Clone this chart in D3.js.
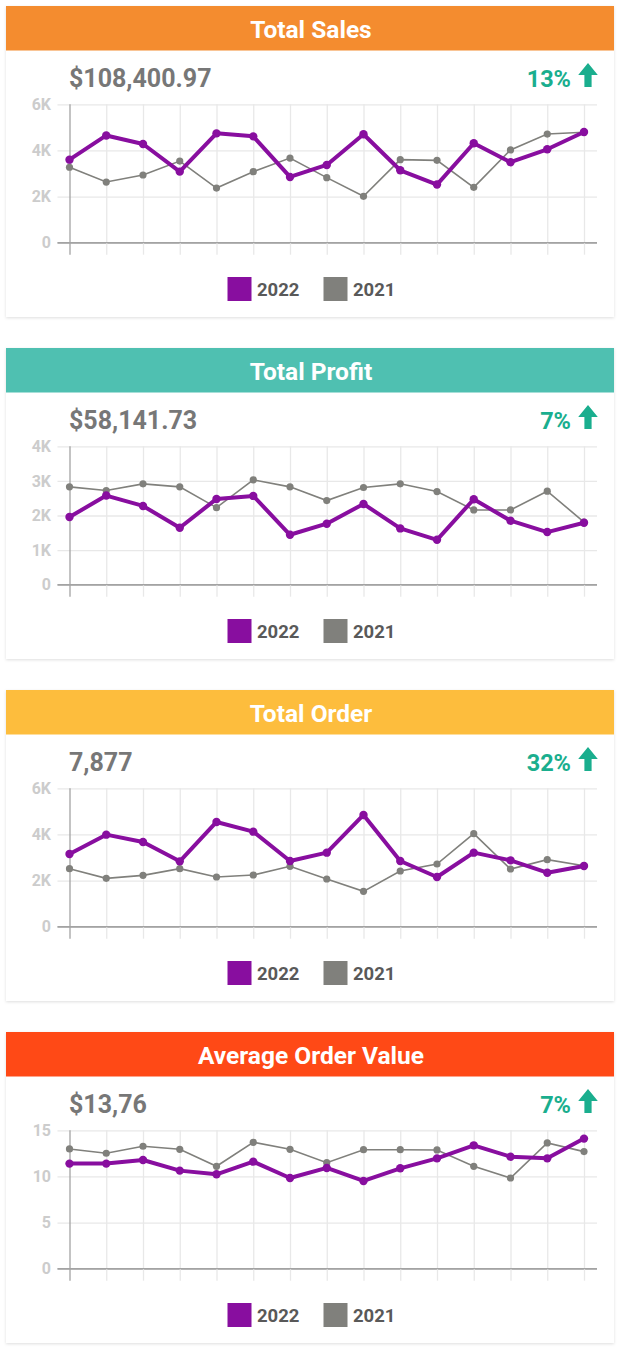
<!DOCTYPE html>
<html>
<head>
<meta charset="utf-8">
<script src="https://cdn.jsdelivr.net/npm/d3@7"></script>
<style>
  html, body { margin: 0; padding: 0; background: #ffffff; }
  svg { display: block; font-family: Roboto, "Noto Sans", sans-serif; }
</style>
</head>
<body>
<svg id="chart" width="620" height="1349"></svg>
<script>
// ---------- data ----------
const periods = ["P1","P2","P3","P4","P5","P6","P7","P8","P9","P10","P11","P12","P13","P14","P15"];
const seriesNames = ["2022", "2021"];

const titles = ["Total Sales", "Total Profit", "Total Order", "Average Order Value"];
const totals = ["$108,400.97", "$58,141.73", "7,877", "$13,76"];
const changes = ["13%", "7%", "32%", "7%"];

const sales2022 = [3600, 4650, 4280, 3080, 4740, 4610, 2850, 3370, 4700, 3140, 2520, 4310, 3490, 4050, 4800];
const sales2021 = [3270, 2630, 2935, 3540, 2370, 3080, 3670, 2820, 2010, 3600, 3570, 2400, 4020, 4710, 4790];

const profit2022 = [1956, 2576, 2276, 1646, 2479, 2566, 1443, 1763, 2334, 1627, 1298, 2470, 1850, 1521, 1792];
const profit2021 = [2828, 2721, 2915, 2828, 2228, 3031, 2828, 2431, 2809, 2915, 2692, 2160, 2160, 2702, 1811];

const orders2022 = [3150, 3990, 3670, 2834, 4540, 4120, 2848, 3210, 4844, 2848, 2154, 3210, 2877, 2342, 2631];
const orders2021 = [2516, 2097, 2227, 2516, 2154, 2241, 2617, 2068, 1533, 2415, 2718, 4034, 2501, 2906, 2646];

const aov2022 = [11.39, 11.39, 11.78, 10.63, 10.23, 11.60, 9.83, 10.92, 9.51, 10.88, 11.96, 13.37, 12.14, 11.96, 14.10];
const aov2021 = [12.98, 12.51, 13.27, 12.94, 11.10, 13.70, 12.94, 11.49, 12.90, 12.90, 12.87, 11.10, 9.83, 13.63, 12.69];

const salesTicks = [0, 2000, 4000, 6000];
const profitTicks = [0, 1000, 2000, 3000, 4000];
const ordersTicks = [0, 2000, 4000, 6000];
const aovTicks = [0, 5, 10, 15];

const salesTickLabels = ["0", "2K", "4K", "6K"];
const profitTickLabels = ["0", "1K", "2K", "3K", "4K"];
const ordersTickLabels = ["0", "2K", "4K", "6K"];
const aovTickLabels = ["0", "5", "10", "15"];

// ---------- styles ----------
const headerColors = ["#F48C2F", "#4FC0B1", "#FDBD3D", "#FF4916"];
const colorMain = "#880E9F";
const colorPrev = "#80807C";
const green = "#1AAE8E";

const panels = [
  { a: sales2022, b: sales2021, ticks: salesTicks, labels: salesTickLabels },
  { a: profit2022, b: profit2021, ticks: profitTicks, labels: profitTickLabels },
  { a: orders2022, b: orders2021, ticks: ordersTicks, labels: ordersTickLabels },
  { a: aov2022, b: aov2021, ticks: aovTicks, labels: aovTickLabels }
];

const svg = d3.select("#chart");
const defs = svg.append("defs");
const f = defs.append("filter").attr("id", "shadow").attr("x", "-5%").attr("y", "-5%").attr("width", "110%").attr("height", "110%");
f.append("feDropShadow").attr("dx", 0).attr("dy", 1).attr("stdDeviation", 1.6).attr("flood-color", "#000").attr("flood-opacity", 0.13);

const cardX = 6, cardW = 608, cardH = 311, headerH = 44.5, step = 342;
const plotLeft = 57.5, plotRight = 597;
const x = d3.scalePoint().domain(periods).range([69.5, 584]);

panels.forEach((p, i) => {
  const T = 6 + i * step;
  const g = svg.append("g");

  g.append("rect").attr("x", cardX).attr("y", T).attr("width", cardW).attr("height", cardH)
    .attr("fill", "#fff").attr("filter", "url(#shadow)");
  g.append("rect").attr("x", cardX).attr("y", T).attr("width", cardW).attr("height", headerH)
    .attr("fill", headerColors[i]);
  g.append("text").attr("x", 311).attr("y", T + 32).attr("text-anchor", "middle")
    .attr("fill", "#fff").attr("font-weight", 700).attr("font-size", 24.5).text(titles[i]);

  g.append("text").attr("x", 69).attr("y", T + 81).attr("fill", "#777777")
    .attr("font-weight", 700).attr("font-size", 25).text(totals[i]);
  g.append("text").attr("x", 571).attr("y", T + 81).attr("text-anchor", "end").attr("fill", green)
    .attr("font-weight", 700).attr("font-size", 23.5).text(changes[i]);
  // up arrow
  const ax = 588, atop = T + 57;
  g.append("path")
    .attr("d", `M${ax},${atop} L${ax + 9.8},${atop + 12} L${ax + 3.6},${atop + 12} L${ax + 3.6},${atop + 24} L${ax - 3.6},${atop + 24} L${ax - 3.6},${atop + 12} L${ax - 9.8},${atop + 12} Z`)
    .attr("fill", green);

  const y = d3.scaleLinear().domain([0, p.ticks[p.ticks.length - 1]]).range([T + 236.7, T + 98.3]);

  // horizontal grid + y labels
  const yAxis = d3.axisLeft(y).tickValues(p.ticks).tickFormat((d, k) => p.labels[k])
    .tickSize(-(plotRight - plotLeft)).tickPadding(6.5);
  const ya = g.append("g").attr("transform", `translate(${plotLeft},0)`).call(yAxis);
  ya.select(".domain").remove();
  ya.selectAll(".tick line").attr("stroke", (d) => d === 0 ? "#a3a3a3" : "#e8e8e8").attr("stroke-width", 1.3);
  ya.selectAll(".tick text").attr("fill", "#cccccc").attr("font-weight", 700).attr("font-size", 16)
    .attr("font-family", "Roboto, sans-serif");

  // vertical grid
  const xAxis = d3.axisBottom(x).tickSizeInner(12).tickSizeOuter(0).tickFormat("");
  const xa = g.append("g").attr("transform", `translate(0,${y(0)})`).call(xAxis);
  xa.select(".domain").remove();
  xa.selectAll(".tick line")
    .attr("y1", y(p.ticks[p.ticks.length - 1]) - y(0))
    .attr("y2", 12)
    .attr("stroke", (d, k) => k === 0 ? "#a3a3a3" : "#e8e8e8").attr("stroke-width", 1.3);
  // redraw zero line on top of vertical grid
  g.append("line").attr("x1", plotLeft).attr("x2", plotRight).attr("y1", y(0)).attr("y2", y(0))
    .attr("stroke", "#a3a3a3").attr("stroke-width", 1.3);

  const line = d3.line().x((d, k) => x(periods[k])).y(d => y(d));

  // 2021 series
  g.append("path").datum(p.b).attr("d", line).attr("fill", "none")
    .attr("stroke", colorPrev).attr("stroke-width", 1.6);
  g.selectAll(".dotb").data(p.b).enter().append("circle")
    .attr("cx", (d, k) => x(periods[k])).attr("cy", d => y(d)).attr("r", 3.6).attr("fill", colorPrev);

  // 2022 series
  g.append("path").datum(p.a).attr("d", line).attr("fill", "none")
    .attr("stroke", colorMain).attr("stroke-width", 4).attr("stroke-linejoin", "round");
  g.selectAll(".dota").data(p.a).enter().append("circle")
    .attr("cx", (d, k) => x(periods[k])).attr("cy", d => y(d)).attr("r", 4.2).attr("fill", colorMain);

  // legend
  const legend = [{ name: seriesNames[0], c: colorMain, sx: 227.5, tx: 257 }, { name: seriesNames[1], c: colorPrev, sx: 323.5, tx: 353 }];
  legend.forEach(l => {
    g.append("rect").attr("x", l.sx).attr("y", T + 271).attr("width", 24).attr("height", 24).attr("fill", l.c);
    g.append("text").attr("x", l.tx).attr("y", T + 290).attr("fill", "#595959")
      .attr("font-weight", 700).attr("font-size", 18.5).text(l.name);
  });
});
</script>
</body>
</html>
